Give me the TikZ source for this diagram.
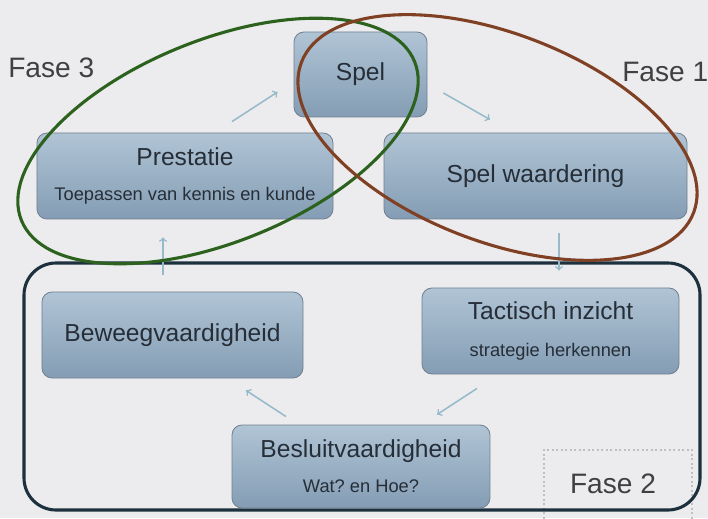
\documentclass[tikz,border=0pt]{standalone}
\usepackage{fontspec}
\setmainfont{Liberation Sans}
\usepackage{tikz}
\usetikzlibrary{calc}
\frenchspacing
\definecolor{achtergrond}{RGB}{236,236,238}
\definecolor{blokboven}{RGB}{176,196,213}
\definecolor{blokonder}{RGB}{132,157,180}
\definecolor{blokrand}{RGB}{112,128,144}
\definecolor{tekst}{RGB}{38,46,56}
\definecolor{marine}{RGB}{28,48,62}
\definecolor{groen}{RGB}{44,98,30}
\definecolor{bruin}{RGB}{128,64,36}
\definecolor{pijl}{RGB}{150,186,202}
\newcommand{\onder}[1]{{\fontsize{13}{15}\selectfont #1}}

\begin{document}
\begin{tikzpicture}[x=0.25mm,y=0.25mm,
  blok/.style={draw=blokrand,line width=0.6pt,rounded corners=2.5mm,
    top color=blokboven,bottom color=blokonder,text=tekst,align=center,
    font=\fontsize{17.5}{21}\selectfont,inner sep=0pt},
  flow/.style={pijl,line width=1.1pt,->},
  fase/.style={text=black!75,font=\fontsize{20}{24}\selectfont,inner sep=0pt}]
  % achtergrond
  \useasboundingbox (0,0) rectangle (708,518);
  \fill[achtergrond] (0,0) rectangle (708,518);

  % fase 2 kader
  \draw[black!25,dotted,line width=1.2pt] (544,-5) rectangle (692,68);
  \node[fase] (fase2) at (613,34) {Fase 2};
  \draw[marine,line width=2.2pt,rounded corners=8mm] (24,8) rectangle (700,255);

  % blokken
  \node[blok,minimum width=33.25mm,minimum height=21.25mm] (spel) at (360.5,443.5) {Spel};
  \node[blok,minimum width=74mm,minimum height=21.5mm] (prestatie) at (185,342)
    {\raisebox{-4pt}{Prestatie}\\[4pt]\raisebox{-4pt}{\onder{Toepassen van kennis en kunde}}};
  \node[blok,minimum width=75.75mm,minimum height=21.5mm] (waardering) at (535.5,342) {Spel waardering};
  \node[blok,minimum width=64.25mm,minimum height=21.5mm] (tactisch) at (550.5,187)
    {Tactisch inzicht\\[5pt]\onder{strategie herkennen}};
  \node[blok,minimum width=65.25mm,minimum height=21.5mm] (beweeg) at (172.5,183) {Beweegvaardigheid};
  \node[blok,minimum width=64.5mm,minimum height=20.75mm] (besluit) at (361,51.5)
    {Besluitvaardigheid\\[4pt]\onder{Wat? en Hoe?}};

  % pijlen
  \draw[flow] ($(prestatie.north)+(47,11)$) -- ($(spel.west)+(-16,-17.5)$);
  \draw[flow] ($(spel.east)+(16,-18.5)$) -- ($(waardering.north)+(-45.5,13)$);
  \draw[flow] ($(waardering.south)+(23.5,-14)$) -- ($(tactisch.north)+(8.5,17)$);
  \draw[flow] ($(tactisch.south)+(-73.5,-14)$) -- ($(besluit.north)+(76,10)$);
  \draw[flow] ($(besluit.north)+(-75,8)$) -- ($(beweeg.south)+(73.5,-12)$);
  \draw[flow] ($(beweeg.north)+(-9.5,17)$) -- ($(prestatie.south)+(-22,-18)$);

  % fases
  \draw[groen,line width=2.2pt,rotate around={22:(218,377)}] (218,377) ellipse [x radius=212,y radius=101];
  \draw[bruin,line width=2.2pt,rotate around={-21:(497.5,380.5)}] (497.5,380.5) ellipse [x radius=210,y radius=104];
  \node[fase,anchor=west] (fase3) at (8,450) {Fase 3};
  \node[fase,anchor=west] (fase1) at (622,446) {Fase 1};
\end{tikzpicture}
\end{document}
